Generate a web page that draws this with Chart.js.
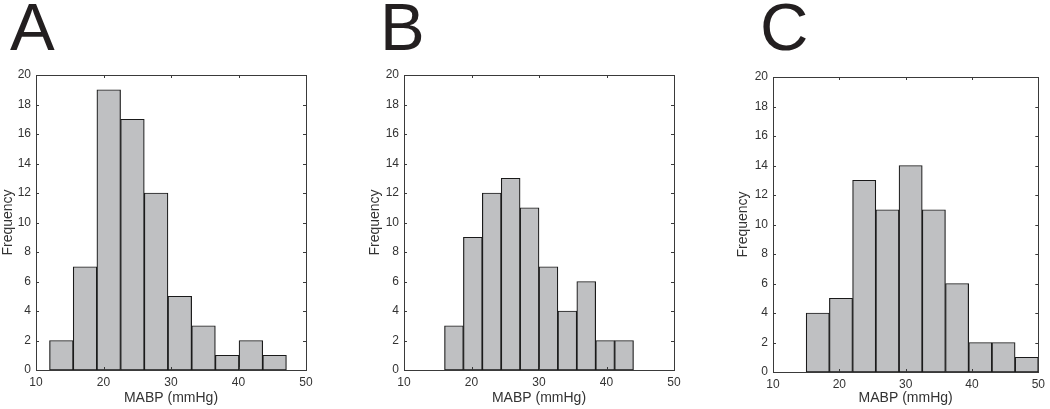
<!DOCTYPE html>
<html>
<head>
<meta charset="utf-8">
<script src="https://cdn.jsdelivr.net/npm/chart.js@4"></script>
<style>
  body { margin: 0; background: #fff; width: 1050px; height: 409px; overflow: hidden; position: relative; }
  .panel { position: absolute; top: 0; }
  .letter { position: absolute; top: -7px; font: 67px 'Liberation Sans', Arial, sans-serif; line-height: 67px; color: #231f20; }
</style>
</head>
<body>
<div class="letter" style="left:10px">A</div>
<div class="letter" style="left:380px">B</div>
<div class="letter" style="left:760px">C</div>
<canvas id="chartA" class="panel" style="left:0px" width="330" height="409"></canvas>
<canvas id="chartB" class="panel" style="left:367px" width="330" height="409"></canvas>
<canvas id="chartC" class="panel" style="left:735px" width="315" height="409"></canvas>
<script>
// histogram bin edges (mmHg) and counts
const edgesA = [12, 15.51, 19.02, 22.53, 26.04, 29.55, 33.06, 36.57, 40.08, 43.59, 47.1];
const countsA = [2, 7, 19, 17, 12, 5, 3, 1, 2, 1];

const edgesB = [16, 18.8, 21.6, 24.4, 27.2, 30, 32.8, 35.6, 38.4, 41.2, 44];
const countsB = [3, 9, 12, 13, 11, 7, 4, 6, 2, 2];

const edgesC = [15, 18.5, 22, 25.5, 29, 32.5, 36, 39.5, 43, 46.5, 50];
const countsC = [4, 5, 13, 11, 14, 11, 6, 2, 2, 1];

const xTicks = [10, 20, 30, 40, 50];
const yTicks = [0, 2, 4, 6, 8, 10, 12, 14, 16, 18, 20];
const xLabel = 'MABP (mmHg)';
const yLabel = 'Frequency';

const FONT = "'Liberation Sans', Arial, sans-serif";
const TXT = '#333';
const AXIS = '#3a3a3a';

// matlab style box with inward ticks on all four sides
const boxTicks = {
  id: 'boxTicks',
  afterDraw(chart) {
    const { ctx, chartArea: a, scales } = chart;
    const len = 3;
    ctx.save();
    ctx.strokeStyle = AXIS;
    ctx.lineWidth = 1;
    ctx.beginPath();
    xTicks.forEach(v => {
      const px = Math.round(scales.x.getPixelForValue(v)) + 0.5;
      ctx.moveTo(px, a.bottom); ctx.lineTo(px, a.bottom - len);
      ctx.moveTo(px, a.top); ctx.lineTo(px, a.top + len);
    });
    yTicks.forEach(v => {
      const py = Math.round(scales.y.getPixelForValue(v)) + 0.5;
      ctx.moveTo(a.left, py); ctx.lineTo(a.left + len, py);
      ctx.moveTo(a.right, py); ctx.lineTo(a.right - len, py);
    });
    ctx.stroke();
    ctx.strokeRect(Math.round(a.left) + 0.5, Math.round(a.top) + 0.5,
      Math.round(a.right - a.left), Math.round(a.bottom - a.top));
    ctx.restore();
  }
};

function makeHist(id, edges, counts, geo) {
  const pts = counts.map((c, i) => ({ x: (edges[i] + edges[i + 1]) / 2, y: c }));
  return new Chart(document.getElementById(id), {
    type: 'bar',
    data: {
      datasets: [{
        data: pts,
        backgroundColor: '#bfc0c2',
        borderColor: '#1a1a1a',
        borderWidth: 1.2,
        borderSkipped: false,
        barPercentage: 1,
        categoryPercentage: 1,
        clip: false
      }]
    },
    options: {
      responsive: false,
      animation: false,
      events: [],
      layout: { padding: { top: geo.top, right: geo.right, left: 0, bottom: 0 } },
      plugins: { legend: { display: false }, tooltip: { enabled: false } },
      scales: {
        x: {
          type: 'linear',
          min: 10, max: 50,
          offset: false,
          grid: { display: false, drawTicks: false },
          border: { display: false },
          afterBuildTicks: s => { s.ticks = xTicks.map(v => ({ value: v })); },
          ticks: { padding: 5, color: TXT, font: { family: FONT, size: 12 }, maxRotation: 0 },
          title: { display: true, text: xLabel, color: TXT, font: { family: FONT, size: 14 }, padding: { top: 0, bottom: 2 } },
          afterFit: s => { s.height = geo.xh; }
        },
        y: {
          min: 0, max: 20,
          grid: { display: false, drawTicks: false },
          border: { display: false },
          afterBuildTicks: s => { s.ticks = yTicks.map(v => ({ value: v })); },
          ticks: { padding: 5, color: TXT, font: { family: FONT, size: 12 } },
          title: { display: true, text: yLabel, color: TXT, font: { family: FONT, size: 14 }, padding: { top: 0, bottom: 0 } },
          afterFit: s => { s.width = geo.yw; }
        }
      }
    },
    plugins: [boxTicks]
  });
}

makeHist('chartA', edgesA, countsA, { top: 75, right: 24, yw: 36, xh: 39 });
makeHist('chartB', edgesB, countsB, { top: 75, right: 23, yw: 37, xh: 39 });
makeHist('chartC', edgesC, countsC, { top: 77, right: 7, yw: 38, xh: 37 });
</script>
</body>
</html>
